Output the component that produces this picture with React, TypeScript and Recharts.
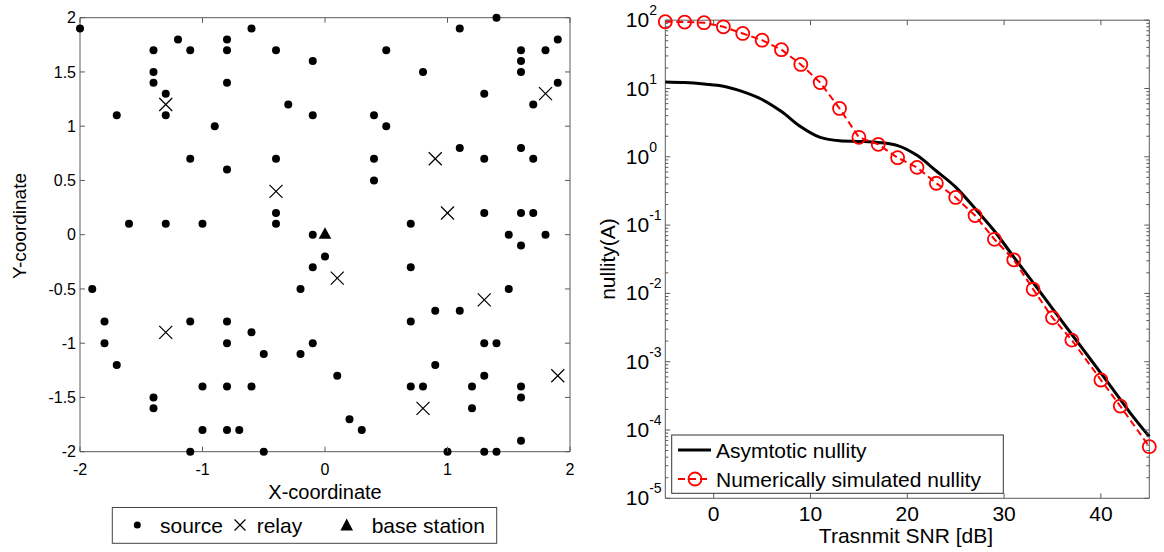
import React from "react";
import { ScatterChart, Scatter, ComposedChart, Line, XAxis, YAxis, ReferenceArea } from "recharts";

const FONT = "'Liberation Sans', Arial, Helvetica, sans-serif";
const FRAME = "#5a5a5a";
const RED = "#ff0000";

// ---- left panel: node layout (0.1 grid)
const sources: [number, number][] = [
  [-2, 1.9], [-1.4, 1.7], [-1.2, 1.8], [-1.1, 1.7], [-0.8, 1.8], [-0.8, 1.7], [-0.6, 1.9], [-0.4, 1.7],
  [-0.1, 1.6], [-1.4, 1.5], [-1.4, 1.4], [-0.8, 1.4], [-1.3, 1.3], [-1.3, 1.1], [-1.7, 1.1], [-0.3, 1.2],
  [-0.1, 1.1], [-0.9, 1.0], [-1.1, 0.7], [-0.8, 0.6], [-0.4, 0.7], [-0.4, 0.2], [-0.4, 0.1], [-1.6, 0.1],
  [-1.3, 0.1], [-1.0, 0.1], [-0.1, 0.0],
  [0.5, 1.7], [1.1, 1.9], [1.4, 2.0], [0.8, 1.5], [1.6, 1.7], [1.6, 1.6], [1.6, 1.5], [1.8, 1.7],
  [1.9, 1.8], [1.9, 1.4], [1.7, 1.2], [1.3, 1.3], [0.4, 1.1], [0.5, 1.0], [0.4, 0.7], [0.4, 0.5],
  [1.1, 0.8], [1.3, 0.7], [1.6, 0.8], [1.7, 0.7], [1.3, 0.2], [1.6, 0.2], [1.7, 0.2], [0.7, 0.1],
  [1.5, 0.0], [1.8, 0.0],
  [-0.1, -0.3], [-1.9, -0.5], [-0.2, -0.5], [-1.8, -0.8], [-1.8, -1.0], [-1.7, -1.2], [-1.1, -0.8],
  [-0.8, -0.8], [-0.8, -1.0], [-0.6, -0.9], [-0.5, -1.1], [-0.2, -1.1], [-0.1, -1.0], [-1.4, -1.5],
  [-1.4, -1.6], [-1.0, -1.4], [-0.8, -1.4], [-0.6, -1.4], [-1.0, -1.8], [-0.8, -1.8], [-0.7, -1.8],
  [-1.1, -2.0], [-0.5, -2.0],
  [1.6, -0.1], [0, -0.2], [0.7, -0.3], [1.5, -0.5], [0.9, -0.7], [1.1, -0.7], [0.7, -0.8], [1.3, -1.0],
  [1.4, -1.0], [0.9, -1.2], [0.1, -1.3], [1.3, -1.3], [0.7, -1.4], [0.8, -1.4], [1.2, -1.4], [1.6, -1.4],
  [1.6, -1.5], [1.2, -1.6], [0.2, -1.7], [0.3, -1.8], [1.6, -1.9], [1.0, -2.0], [1.3, -2.0], [1.4, -2.0],
];
const relays: [number, number][] = [
  [-1.3, 1.2], [-0.4, 0.4], [1.8, 1.3], [0.9, 0.7], [1.0, 0.2],
  [-1.3, -0.9], [0.1, -0.4], [1.3, -0.6], [1.9, -1.3], [0.8, -1.6],
];
const baseStation: [number, number][] = [[0, 0]];
const coordTicksX = [-2, -1, 0, 1, 2];
const coordTicksY = [-2, -1.5, -1, -0.5, 0, 0.5, 1, 1.5, 2];

// ---- right panel: nullity vs transmit SNR
const snrTicks = [0, 10, 20, 30, 40];
const decadeTicks = [1e-5, 1e-4, 1e-3, 1e-2, 1e-1, 1, 10, 100];
const minorSteps = [2, 3, 4, 5, 6, 7, 8, 9];
const asymSnr = [-5, -3, -1, 1, 3, 5, 7, 9, 11, 13, 15, 17, 19, 21, 23, 25, 27, 29, 31, 33, 35, 37, 39, 41, 43, 45];
const asymNullity = [
  12.5, 12.2, 11.6, 10.8, 9.0, 6.9, 4.6, 2.75, 1.92, 1.72, 1.68, 1.62, 1.46, 1.05, 0.62, 0.36, 0.175,
  0.082, 0.034, 0.0144, 0.006, 0.0025, 0.00105, 0.00044, 0.00018, 0.00008,
];
const simSnr = [-5, -3, -1, 1, 3, 5, 7, 9, 11, 13, 15, 17, 19, 21, 23, 25, 27, 29, 31, 33, 35, 37, 40, 42, 45];
const simNullity = [
  95, 94, 92, 80, 64, 51, 37, 22.5, 12.2, 5.1, 1.93, 1.52, 0.97, 0.7, 0.41, 0.254, 0.138, 0.062, 0.031,
  0.0115, 0.0044, 0.00207, 0.00054, 0.000224, 0.000057,
];

const toPts = (a: [number, number][]) => a.map(([x, y]) => ({ x, y }));
const asymData = asymSnr.map((snr, i) => ({ snr, v: asymNullity[i] }));
const simData = simSnr.map((snr, i) => ({ snr, v: simNullity[i] }));
const minorTicks = decadeTicks.slice(0, -1).flatMap((d) => minorSteps.map((m) => m * d));
const nullTicks = [...decadeTicks, ...minorTicks].sort((a, b) => a - b);

// plot boxes, px
const LP = { w: 600, top: 17.7, bottom: 451.7, left: 80, right: 570 };
const RX = 580; // right chart offset
const RP = { w: 584, top: 20.2, bottom: 498.3, left: 85.3, right: 569.3 };
const H = 552;

const txt = { fontFamily: FONT, fill: "#000" } as const;

function LeftXTick({ x, y, payload }: any) {
  return (
    <g>
      <line x1={x} x2={x} y1={y} y2={y - 5} stroke={FRAME} />
      <line x1={x} x2={x} y1={LP.top} y2={LP.top + 5} stroke={FRAME} />
      <text x={x} y={y + 23} textAnchor="middle" fontSize={16} {...txt}>{String(payload.value)}</text>
    </g>
  );
}

function LeftYTick({ x, y, payload }: any) {
  return (
    <g>
      <line x1={x} x2={x + 5} y1={y} y2={y} stroke={FRAME} />
      <line x1={LP.right} x2={LP.right - 5} y1={y} y2={y} stroke={FRAME} />
      <text x={x - 4} y={y + 5.7} textAnchor="end" fontSize={16} {...txt}>{String(payload.value)}</text>
    </g>
  );
}

function RightXTick({ x, y, payload }: any) {
  return (
    <g>
      <line x1={x} x2={x} y1={y} y2={y - 5} stroke={FRAME} />
      <line x1={x} x2={x} y1={RP.top} y2={RP.top + 5} stroke={FRAME} />
      <text x={x} y={y + 23} textAnchor="middle" fontSize={21} {...txt}>{String(payload.value)}</text>
    </g>
  );
}

function RightYTick({ x, y, payload }: any) {
  const e = Math.log10(payload.value);
  const major = Math.abs(e - Math.round(e)) < 1e-6;
  const len = major ? 5 : 3;
  return (
    <g>
      <line x1={x} x2={x + len} y1={y} y2={y} stroke={FRAME} />
      <line x1={RP.right} x2={RP.right - len} y1={y} y2={y} stroke={FRAME} />
      {major && (
        <text x={x - 39.5} y={y + 7} fontSize={21} {...txt}>
          10<tspan dy={-12} fontSize={14}>{String(Math.round(e))}</tspan>
        </text>
      )}
    </g>
  );
}

const sourceShape = (p: any) => <circle cx={p.cx} cy={p.cy} r={4} fill="#000" />;
const relayShape = (p: any) => (
  <g stroke="#000" strokeWidth={1.2}>
    <line x1={p.cx - 6.5} y1={p.cy - 6.5} x2={p.cx + 6.5} y2={p.cy + 6.5} />
    <line x1={p.cx - 6.5} y1={p.cy + 6.5} x2={p.cx + 6.5} y2={p.cy - 6.5} />
  </g>
);
const baseShape = (p: any) => (
  <path d={`M${p.cx},${p.cy - 7.5} L${p.cx + 6.3},${p.cy + 4} L${p.cx - 6.3},${p.cy + 4} Z`} fill="#000" />
);
const simDot = (p: any) => (
  <circle key={`d${p.index}`} cx={p.cx} cy={p.cy} r={6.5} fill="none" stroke={RED} strokeWidth={1.8} />
);

export default function App() {
  return (
    <div style={{ position: "absolute", left: 0, top: 0, width: 1164, height: H, background: "#fff", fontFamily: FONT }}>
      <div style={{ position: "absolute", left: 0, top: 0 }}>
        <ScatterChart width={LP.w} height={H} margin={{ top: LP.top, right: LP.w - LP.right, bottom: 0, left: 0 }}>
          <XAxis type="number" dataKey="x" domain={[-2, 2]} ticks={coordTicksX} interval={0}
            height={H - LP.bottom} tickSize={0} tickMargin={0} axisLine={false} tickLine={false} tick={LeftXTick} />
          <YAxis type="number" dataKey="y" domain={[-2, 2]} ticks={coordTicksY} interval={0}
            width={LP.left} tickSize={0} tickMargin={0} axisLine={false} tickLine={false} tick={LeftYTick} />
          <ReferenceArea x1={-2} x2={2} y1={-2} y2={2} fill="none" fillOpacity={0} stroke={FRAME} strokeWidth={1} />
          <Scatter data={toPts(sources)} shape={sourceShape} isAnimationActive={false} />
          <Scatter data={toPts(relays)} shape={relayShape} isAnimationActive={false} />
          <Scatter data={toPts(baseStation)} shape={baseShape} isAnimationActive={false} />
        </ScatterChart>
      </div>
      <div style={{ position: "absolute", left: RX, top: 0 }}>
        <ComposedChart width={RP.w} height={H} margin={{ top: RP.top, right: RP.w - RP.right, bottom: 0, left: 0 }}>
          <XAxis type="number" dataKey="snr" domain={[-5, 45]} ticks={snrTicks} interval={0}
            height={H - RP.bottom} tickSize={0} tickMargin={0} axisLine={false} tickLine={false} tick={RightXTick} />
          <YAxis type="number" scale="log" domain={[1e-5, 100]} ticks={nullTicks} interval={0}
            width={RP.left} tickSize={0} tickMargin={0} axisLine={false} tickLine={false} tick={RightYTick} />
          <ReferenceArea x1={-5} x2={45} y1={1e-5} y2={100} fill="none" fillOpacity={0} stroke={FRAME} strokeWidth={1} />
          <Line data={asymData} dataKey="v" type="monotone" stroke="#000" strokeWidth={3} dot={false} isAnimationActive={false} />
          <Line data={simData} dataKey="v" type="linear" stroke={RED} strokeWidth={2} strokeDasharray="7 4"
            dot={simDot} isAnimationActive={false} />
        </ComposedChart>
      </div>
      <svg width={1164} height={H} style={{ position: "absolute", left: 0, top: 0, pointerEvents: "none" }}>
        <g fontFamily={FONT} fill="#000">
          <text transform="translate(25.5,226) rotate(-90)" textAnchor="middle" fontSize={19}>Y-coordinate</text>
          <text x={325} y={499} textAnchor="middle" fontSize={20}>X-coordinate</text>
          <rect x={112.3} y={507.5} width={384.4} height={35.8} fill="#fff" stroke="#444" />
          <circle cx={137.3} cy={525} r={3.5} fill="#000" />
          <text x={160} y={533} fontSize={21}>source</text>
          <g stroke="#000" strokeWidth={1.2}>
            <line x1={234.5} y1={519.5} x2={245.5} y2={530.5} />
            <line x1={234.5} y1={530.5} x2={245.5} y2={519.5} />
          </g>
          <text x={256.7} y={533} fontSize={21}>relay</text>
          <path d="M346.7,518.5 L353,530.5 L340.4,530.5 Z" fill="#000" />
          <text x={371.7} y={533} fontSize={21}>base station</text>

          <text transform="translate(615,259) rotate(-90)" textAnchor="middle" fontSize={21}>nullity(A)</text>
          <text x={906} y={543} textAnchor="middle" fontSize={21}>Trasnmit SNR [dB]</text>
          <rect x={671.7} y={435} width={331.6} height={58.3} fill="#fff" stroke="#333" />
          <line x1={678} x2={711} y1={450} y2={450} stroke="#000" strokeWidth={3} />
          <text x={716} y={458} fontSize={21}>Asymtotic nullity</text>
          <line x1={678} x2={711} y1={479} y2={479} stroke={RED} strokeWidth={2} strokeDasharray="7 4" />
          <circle cx={695} cy={479} r={6.5} fill="none" stroke={RED} strokeWidth={1.8} />
          <text x={716} y={486.7} fontSize={21}>Numerically simulated nullity</text>
        </g>
      </svg>
    </div>
  );
}
